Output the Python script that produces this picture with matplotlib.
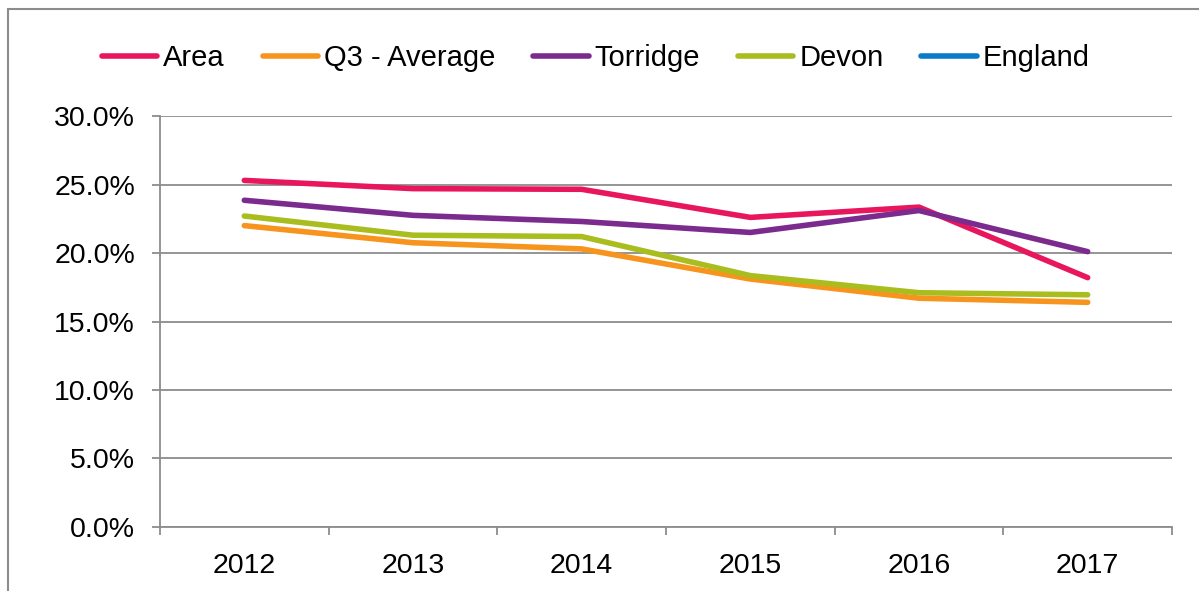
import matplotlib.pyplot as plt
import matplotlib.patches as patches
from matplotlib.ticker import FixedLocator, FuncFormatter

plt.rcParams['font.family'] = ['Liberation Sans', 'DejaVu Sans']

years = ['2012', '2013', '2014', '2015', '2016', '2017']
area = [25.3, 24.7, 24.65, 22.6, 23.35, 18.2]
q3_average = [22.0, 20.75, 20.3, 18.1, 16.7, 16.4]
torridge = [23.85, 22.75, 22.3, 21.5, 23.1, 20.1]
devon = [22.7, 21.3, 21.2, 18.35, 17.1, 16.95]
england = []

series = [
    ('Area', area, '#E8175D'),
    ('Q3 - Average', q3_average, '#F7941E'),
    ('Torridge', torridge, '#7B2A8E'),
    ('Devon', devon, '#AABD1E'),
    ('England', england, '#0A7BC8'),
]

fs = 20.5

fig = plt.figure(figsize=(11.99, 5.91), dpi=100)
ax = fig.add_axes([0.1334, 0.1083, 0.8441, 0.6954])

x = list(range(len(years)))
for name, vals, col in series:
    ax.plot(x[:len(vals)], vals, color=col, lw=4, solid_capstyle='round',
            solid_joinstyle='round', label=name)

ax.set_xlim(-0.5, 5.5)
ax.set_ylim(0, 30)
ax.set_yticks([0, 5, 10, 15, 20, 25, 30])
ax.yaxis.set_major_formatter(FuncFormatter(lambda v, p: f'{v:.1f}%'))
ax.grid(axis='y', color='#8c8c8c', lw=1.3)
ax.set_axisbelow(True)

ax.set_xticks(x)
ax.set_xticklabels(years)
ax.xaxis.set_minor_locator(FixedLocator([i - 0.5 for i in range(len(years) + 1)]))
ax.tick_params(axis='x', which='major', length=0, pad=19, labelsize=fs)
ax.tick_params(axis='x', which='minor', length=6, width=1.3, color='#8c8c8c', direction='out')
ax.tick_params(axis='y', length=6, width=1.3, color='#8c8c8c', pad=12, labelsize=fs)

for s in ['top', 'right']:
    ax.spines[s].set_visible(False)
for s in ['left', 'bottom']:
    ax.spines[s].set_color('#8c8c8c')
    ax.spines[s].set_linewidth(1.3)

leg = fig.legend(loc='center', bbox_to_anchor=(0.497, 0.902), ncol=5, frameon=False,
                 fontsize=21, handlelength=1.9, handletextpad=0.2, columnspacing=1.3)
for h in leg.get_lines():
    h.set_linewidth(4)

frame = patches.Rectangle((8 / 1199, -0.1), 1.2, 0.9848 + 0.1, transform=fig.transFigure,
                          fill=False, edgecolor='#8c8c8c', lw=1.5)
fig.add_artist(frame)

fig.savefig('out.png', dpi=100)
